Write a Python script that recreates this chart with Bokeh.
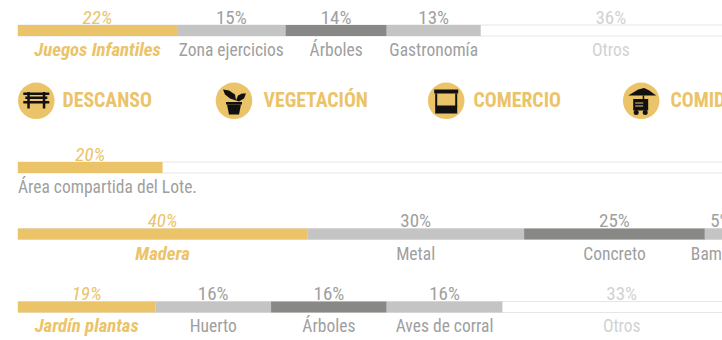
from bokeh.plotting import figure
from bokeh.embed import file_html
from bokeh.resources import INLINE
from bokeh.models import Range1d
from bokeh.core.properties import value

GOLD = "#ebc369"
LIGHT = "#c4c4c4"
DARK = "#888887"
TRACK = "#e6e6e6"
TEXT = "#a0a0a0"
FAINT = "#d2d2d2"
FONT = "Roboto Condensed, Roboto"

row1_labels = ["Juegos Infantiles", "Zona ejercicios", "Árboles", "Gastronomía", "Otros"]
row1_values = [22, 15, 14, 13, 36]
row2_labels = ["Área compartida del Lote."]
row2_values = [20]
row3_labels = ["Madera", "Metal", "Concreto", "Bambú"]
row3_values = [40, 30, 25, 5]
row4_labels = ["Jardín plantas", "Huerto", "Árboles", "Aves de corral", "Otros"]
row4_values = [19, 16, 16, 16, 33]
headings = ["DESCANSO", "VEGETACIÓN", "COMERCIO", "COMIDA"]

W, H = 722, 340
X0 = 17.5
PX = 7.23
p = figure(width=W, height=H, output_backend="svg", toolbar_location=None,
           x_range=Range1d(-X0 / PX, (W - X0) / PX), y_range=Range1d(H, 0),
           min_border=0, outline_line_color=None)
p.axis.visible = False
p.grid.visible = False
p.min_border_left = p.min_border_right = p.min_border_top = p.min_border_bottom = 0


def sx(px):
    return (px - X0) / PX


def row(labels, values, top, pct_base, lab_base, left_label=False):
    t, b = top, top + 11
    p.quad(left=[0], right=[100], top=[t], bottom=[b], fill_color="white",
           line_color=TRACK, line_width=1)
    cum = 0
    fills = [GOLD, LIGHT, DARK, LIGHT, None]
    for i, (lab, v) in enumerate(zip(labels, values)):
        other = lab == "Otros"
        if not other:
            p.quad(left=[cum], right=[cum + v], top=[t], bottom=[b],
                   fill_color=fills[i], line_color=None)
        mid = cum + v / 2
        col = GOLD if i == 0 else (FAINT if other else TEXT)
        edge = lab == "Bambú"
        p.text([mid], [pct_base - 8], text=[f"{v}%"], text_align="center", text_baseline="alphabetic",
               text_font=value(FONT), text_font_size="19px", text_color=col, x_offset=-2 if edge else 0,
               text_font_style="italic" if i == 0 else "normal")
        if left_label:
            p.text([cum], [lab_base - 7], text=[lab], text_align="left", text_baseline="alphabetic",
                   text_font=value(FONT), text_font_size="17.5px", text_color=TEXT)
        else:
            first = i == 0
            p.text([mid], [lab_base - 7], text=[lab], text_align="center", text_baseline="alphabetic",
                   text_font=value(FONT), text_font_size="18.8px" if first else "17.5px", text_color=col,
                   x_offset=-8 if edge else 0,
                   text_font_style="bold italic" if first else "normal")
        cum += v


row(row1_labels, row1_values, 24.5, 24.5, 56)
row(row2_labels, row2_values, 161.5, 161.5, 193, left_label=True)
row(row3_labels, row3_values, 228, 228, 260)
row(row4_labels, row4_values, 301, 301, 332.5)


def R(x0, y0, x1, y1, color="#111111"):
    p.quad(left=[sx(x0)], right=[sx(x1)], top=[y0], bottom=[y1], fill_color=color, line_color=None)


def P(points, color="#111111"):
    p.patch([sx(a) for a, _ in points], [b for _, b in points], fill_color=color, line_color=None)


centers = [35.8, 233.5, 445.7, 640.7]
text_x = [62, 263, 473, 670]
for c, tx, h in zip(centers, text_x, headings):
    p.circle([sx(c)], [100.3], radius=18.3, radius_units="screen", fill_color=GOLD, line_color=None)
    p.text([sx(tx)], [100], text=[h], text_align="left", text_baseline="alphabetic",
           text_font=value(FONT), text_font_size="19.8px", text_font_style="bold", text_color=GOLD)

# bench
c = centers[0]
R(c - 13, 92, c + 13, 94.5)
R(c - 11, 96, c + 11, 98.5)
R(c - 13, 100.5, c + 13, 103)
R(c - 9, 91.5, c - 6.5, 108)
R(c + 6.5, 91.5, c + 9, 108)
# plant
c = centers[1]
P([(c - 7, 104), (c + 7, 104), (c + 5, 114), (c - 5, 114)])
R(c - 8, 101.5, c + 8, 104)
P([(c + 2, 100), (c + 1, 94), (c - 5, 90), (c - 11, 89), (c - 9, 94), (c - 4, 98)])
P([(c + 2, 100), (c + 4, 95), (c + 8, 93), (c + 12, 93), (c + 10, 98), (c + 5, 101)])
# stall
c = centers[2]
R(c - 12, 89, c + 12, 93)
R(c - 11, 93, c - 9, 106)
R(c + 9, 93, c + 11, 106)
R(c - 11, 105, c + 11, 113)
# food cart
c = centers[3]
P([(c - 13, 95), (c - 3, 89), (c + 3, 87.5), (c + 8, 90), (c + 15, 95)])
R(c + 1.5, 95, c + 3, 99)
R(c - 8, 98.5, c + 7, 110)
R(c - 6, 102, c + 2, 103, GOLD)
R(c - 6, 105, c + 2, 106, GOLD)
p.circle([sx(c - 5), sx(c + 4)], [112, 112], radius=2.5, radius_units="screen", fill_color="#111111", line_color=None)

open("out.html", "w").write(file_html(p, INLINE))
